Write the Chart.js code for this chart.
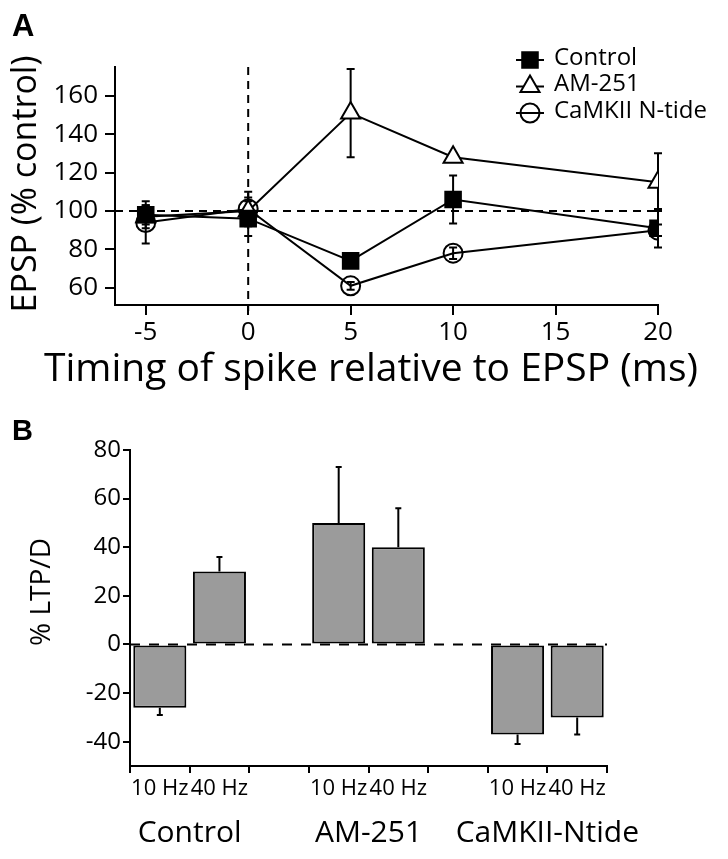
<!DOCTYPE html>
<html lang="en">
<head>
<meta charset="utf-8">
<title>EPSP timing and LTP/D</title>
<script src="https://cdn.jsdelivr.net/npm/chart.js@4.4.1/dist/chart.umd.min.js"></script>
<style>
  body { margin: 0; background: #fff; }
  #wrap { position: relative; width: 728px; height: 859px; }
  #chartA { position: absolute; left: 0; top: 0; }
  #chartB { position: absolute; left: 0; top: 400px; }
</style>
</head>
<body>
<div id="wrap">
  <canvas id="chartA" width="728" height="400"></canvas>
  <canvas id="chartB" width="728" height="459"></canvas>
</div>
<script>
// panel A - spike timing (ms) vs EPSP (% control)
var timing = [-5, 0, 5, 10, 20];
var controlEpsp = [98, 96, 74, 106, 91];
var controlErr = [5, 9, 3, 12.5, 10];
var am251Epsp = [97, 100, 151, 128, 115];
var am251Err = [6, 7, 23, 2, 15];
var camkiiEpsp = [94, 101, 61, 78, 90];
var camkiiErr = [11, 9, 2, 3, 3];

// panel B - % LTP/D per pairing frequency
var freqLabels = ['10 Hz', '40 Hz', '', '10 Hz', '40 Hz', '', '10 Hz', '40 Hz'];
var groupNames = ['Control', 'AM-251', 'CaMKII-Ntide'];
var ltpValues = [-26, 30, null, 50, 40, null, -37, -30];
var ltpErr = [3, 6, null, 23, 16, null, 4, 7];

var FONT = '"Open Sans", sans-serif';
Chart.defaults.font.family = FONT;
Chart.defaults.color = '#000';

function pts(ys) {
  return timing.map(function (t, i) { return { x: t, y: ys[i] }; });
}

function marker(ctx, ds, x, y) {
  ctx.fillStyle = ds.pointBackgroundColor;
  ctx.strokeStyle = '#000';
  ctx.lineWidth = 2;
  Chart.helpers.drawPoint(ctx, { pointStyle: ds.pointStyle, radius: ds.pointRadius, borderWidth: 2, rotation: 0 }, x, y);
}

var errA = [controlErr, am251Err, camkiiErr];

var panelA = {
  id: 'panelA',
  beforeDatasetsDraw: function (chart) {
    var ctx = chart.ctx, xs = chart.scales.x, ys = chart.scales.y, area = chart.chartArea;
    ctx.save();
    ctx.strokeStyle = '#000';
    ctx.lineWidth = 2;
    // dashed reference lines
    ctx.setLineDash([8, 6]);
    ctx.beginPath();
    var y100 = ys.getPixelForValue(100);
    ctx.moveTo(area.left, y100);
    ctx.lineTo(area.right, y100);
    var x0 = xs.getPixelForValue(0);
    ctx.moveTo(x0, area.top);
    ctx.lineTo(x0, area.bottom + 6);
    ctx.stroke();
    ctx.setLineDash([]);
    // error bars
    chart.data.datasets.forEach(function (ds, i) {
      ds.data.forEach(function (p, j) {
        var e = errA[i][j];
        var px = xs.getPixelForValue(p.x);
        var top = ys.getPixelForValue(p.y + e);
        var bot = ys.getPixelForValue(p.y - e);
        ctx.beginPath();
        ctx.moveTo(px, top); ctx.lineTo(px, bot);
        ctx.moveTo(px - 4, top); ctx.lineTo(px + 4, top);
        ctx.moveTo(px - 4, bot); ctx.lineTo(px + 4, bot);
        ctx.stroke();
      });
    });
    ctx.restore();
  },
  afterDraw: function (chart) {
    var ctx = chart.ctx, area = chart.chartArea;
    ctx.save();
    // legend
    ctx.textBaseline = 'middle';
    chart.data.datasets.forEach(function (ds, i) {
      var y = 60 + i * 26.5, cx = 530;
      ctx.strokeStyle = '#000';
      ctx.lineWidth = 2;
      ctx.beginPath();
      ctx.moveTo(cx - 14, y); ctx.lineTo(cx + 14, y);
      ctx.stroke();
      marker(ctx, ds, cx, y);
      ctx.fillStyle = '#000';
      ctx.font = '24px ' + FONT;
      ctx.textAlign = 'left';
      ctx.fillText(ds.label, 554, y - 2);
    });
    // axis titles
    ctx.fillStyle = '#000';
    ctx.font = '39px ' + FONT;
    ctx.textAlign = 'center';
    ctx.fillText('Timing of spike relative to EPSP (ms)', 371, 370);
    ctx.translate(26, (area.top + area.bottom) / 2 - 2);
    ctx.rotate(-Math.PI / 2);
    ctx.font = '34px ' + FONT;
    ctx.fillText('EPSP (% control)', 0, 0);
    ctx.restore();
    ctx.save();
    ctx.font = 'bold 31px "Liberation Sans", Arial, sans-serif';
    ctx.fillStyle = '#000';
    ctx.textBaseline = 'alphabetic';
    ctx.fillText('A', 12, 36);
    ctx.restore();
  }
};

var lineDs = function (label, ys, style, radius, fill) {
  return {
    label: label,
    data: pts(ys),
    showLine: true,
    borderColor: '#000',
    borderWidth: 2,
    tension: 0,
    pointStyle: style,
    pointRadius: radius,
    pointBackgroundColor: fill,
    pointBorderColor: '#000',
    pointBorderWidth: 2
  };
};

new Chart(document.getElementById('chartA'), {
  type: 'scatter',
  data: {
    datasets: [
      lineDs('Control', controlEpsp, 'rect', 11, '#000'),
      lineDs('AM-251', am251Epsp, 'triangle', 11, '#fff'),
      lineDs('CaMKII N-tide', camkiiEpsp, 'circle', 9.5, 'rgba(0,0,0,0)')
    ]
  },
  options: {
    responsive: false,
    animation: false,
    layout: { padding: { top: 67, right: 70, left: 0, bottom: 0 } },
    plugins: { legend: { display: false }, tooltip: { enabled: false } },
    scales: {
      x: {
        type: 'linear', min: -6.5, max: 20,
        ticks: { stepSize: 5, includeBounds: false, font: { size: 26 }, color: '#000', padding: 2 },
        grid: { drawOnChartArea: false, color: '#000', lineWidth: 2, tickLength: 10 },
        border: { color: '#000', width: 2 },
        afterFit: function (s) { s.height = 95; }
      },
      y: {
        min: 51, max: 175,
        ticks: { stepSize: 20, includeBounds: false, font: { size: 26 }, color: '#000', padding: 7 },
        grid: { drawOnChartArea: false, color: '#000', lineWidth: 2, tickLength: 10 },
        border: { color: '#000', width: 2 },
        afterFit: function (s) { s.width = 115; }
      }
    }
  },
  plugins: [panelA]
});

var panelB = {
  id: 'panelB',
  beforeDatasetsDraw: function (chart) {
    var ctx = chart.ctx, ys = chart.scales.y, area = chart.chartArea;
    var y0 = ys.getPixelForValue(0);
    ctx.save();
    ctx.strokeStyle = '#000';
    ctx.lineWidth = 2;
    ctx.setLineDash([10, 9]);
    ctx.beginPath();
    ctx.moveTo(area.left, y0);
    ctx.lineTo(area.right, y0);
    ctx.stroke();
    ctx.restore();
  },
  afterDatasetsDraw: function (chart) {
    var ctx = chart.ctx, xs = chart.scales.x, ys = chart.scales.y;
    ctx.save();
    ctx.strokeStyle = '#000';
    ctx.lineWidth = 2;
    ltpValues.forEach(function (v, j) {
      if (v === null) return;
      var px = xs.getPixelForValue(j);
      var end = v + (v < 0 ? -ltpErr[j] : ltpErr[j]);
      var y1 = ys.getPixelForValue(v), y2 = ys.getPixelForValue(end);
      ctx.beginPath();
      ctx.moveTo(px, y1); ctx.lineTo(px, y2);
      ctx.moveTo(px - 3, y2); ctx.lineTo(px + 3, y2);
      ctx.stroke();
    });
    ctx.restore();
  },
  afterDraw: function (chart) {
    var ctx = chart.ctx, xs = chart.scales.x;
    ctx.save();
    ctx.fillStyle = '#000';
    ctx.textBaseline = 'middle';
    ctx.textAlign = 'center';
    ctx.font = '30px ' + FONT;
    groupNames.forEach(function (g, i) {
      var cx = (xs.getPixelForValue(i * 3) + xs.getPixelForValue(i * 3 + 1)) / 2;
      ctx.fillText(g, cx, 433);
    });
    ctx.translate(42, 192);
    ctx.rotate(-Math.PI / 2);
    ctx.font = '28px ' + FONT;
    ctx.fillText('% LTP/D', 0, 0);
    ctx.restore();
    ctx.save();
    ctx.font = 'bold 29px "Liberation Sans", Arial, sans-serif';
    ctx.fillStyle = '#000';
    ctx.fillText('B', 12, 40);
    ctx.restore();
  }
};

new Chart(document.getElementById('chartB'), {
  type: 'bar',
  data: {
    labels: freqLabels,
    datasets: [{
      data: ltpValues,
      backgroundColor: '#9b9b9b',
      borderColor: '#000',
      borderWidth: 2,
      borderSkipped: false,
      barPercentage: 0.89,
      categoryPercentage: 1
    }]
  },
  options: {
    responsive: false,
    animation: false,
    layout: { padding: { top: 50, right: 121, left: 0, bottom: 0 } },
    plugins: { legend: { display: false }, tooltip: { enabled: false } },
    scales: {
      x: {
        ticks: { font: { size: 22 }, color: '#000', maxRotation: 0, autoSkip: false, padding: 3 },
        grid: { drawOnChartArea: false, color: '#000', lineWidth: 2, tickLength: 7 },
        border: { color: '#000', width: 2 },
        afterFit: function (s) { s.height = 93; }
      },
      y: {
        min: -50, max: 80,
        ticks: { stepSize: 20, includeBounds: false, font: { size: 24 }, color: '#000', padding: 2 },
        grid: { drawOnChartArea: false, color: '#000', lineWidth: 2, tickLength: 7 },
        border: { color: '#000', width: 2 },
        afterFit: function (s) { s.width = 130; }
      }
    }
  },
  plugins: [panelB]
});
</script>
</body>
</html>
